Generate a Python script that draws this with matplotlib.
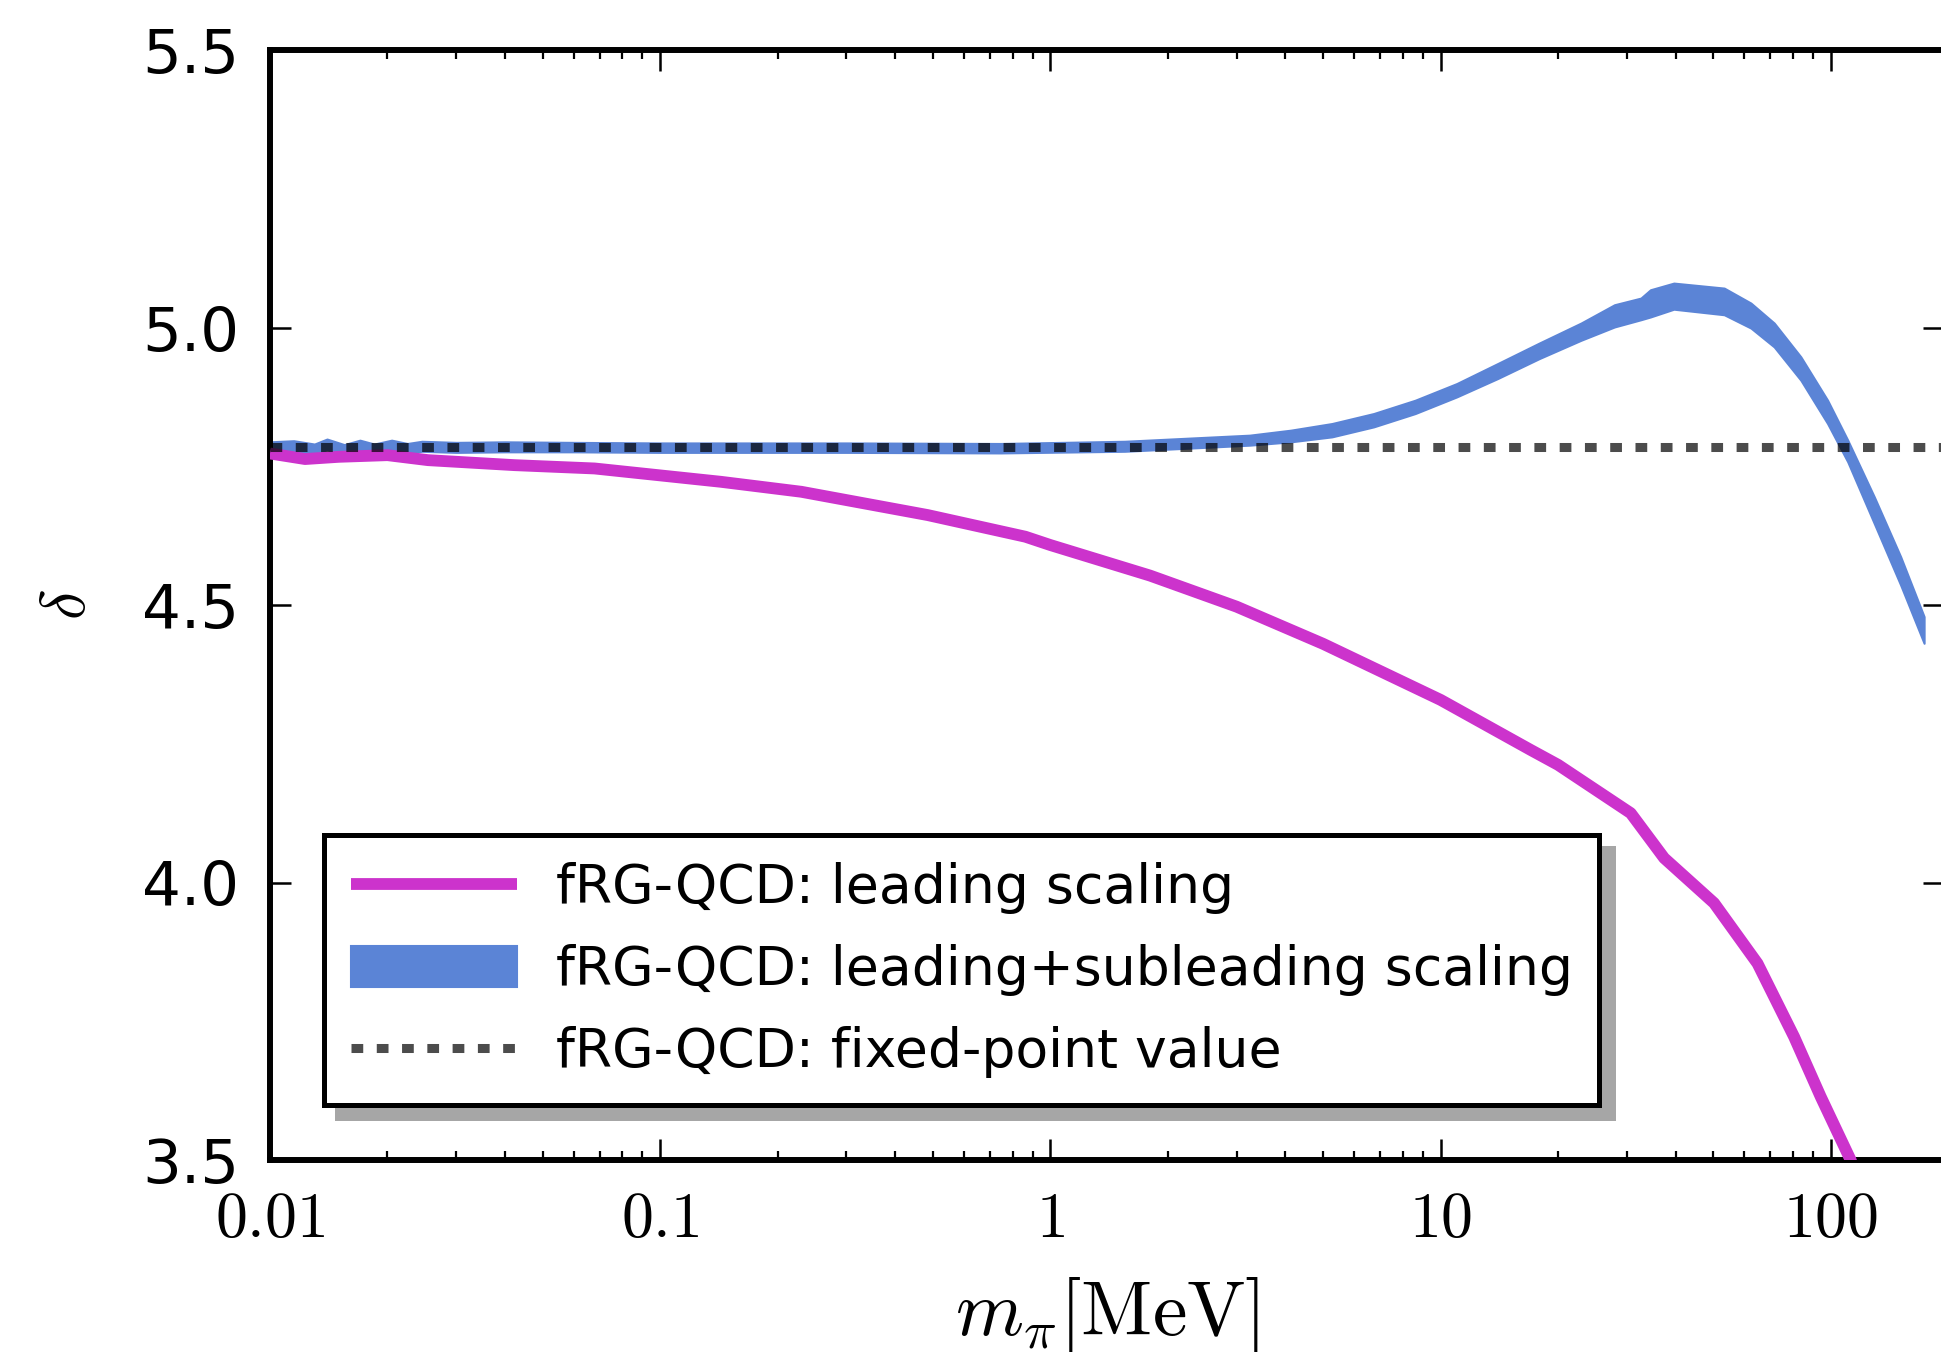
import matplotlib
matplotlib.use("Agg")
import matplotlib.pyplot as plt
from matplotlib.ticker import FixedLocator, FixedFormatter, LogLocator, NullFormatter

plt.rcParams["mathtext.fontset"] = "cm"
plt.rcParams["font.family"] = "DejaVu Sans"

# leading scaling (magenta line)
lead_x = [0.0100, 0.0123, 0.0150, 0.0200, 0.0254, 0.0423, 0.0679, 0.143, 0.230,
          0.485, 0.863, 1.0, 1.8, 3.0, 5.0, 10.0, 17.0, 20.0, 30.7, 37.4, 50.2,
          64.9, 80.5, 94.2, 112.4, 125.0]
lead_y = [4.773, 4.763, 4.767, 4.770, 4.761, 4.752, 4.746, 4.722, 4.704,
          4.662, 4.623, 4.608, 4.553, 4.497, 4.430, 4.329, 4.239, 4.212, 4.125, 4.044, 3.963,
          3.854, 3.722, 3.614, 3.500, 3.410]

# leading + subleading scaling (blue band)
band_x = [0.0100, 0.0115, 0.0130, 0.0140, 0.0155, 0.0170, 0.0185, 0.0205, 0.0225,
          0.0245, 0.030, 0.040, 0.060, 0.10, 0.30, 0.745, 1.55, 3.24, 4.13, 5.27,
          6.74, 8.61, 11.0, 14.0, 17.9, 22.9, 27.9, 32.6, 34.5, 39.6, 53.3, 62.4,
          71.6, 83.8, 98.1, 110.5, 129.2, 151.0, 173.4]
band_lo = [4.776, 4.778, 4.772, 4.780, 4.771, 4.779, 4.772, 4.779, 4.773,
           4.777, 4.775, 4.776, 4.776, 4.775, 4.775, 4.774, 4.777, 4.788, 4.794, 4.803,
           4.821, 4.845, 4.875, 4.908, 4.944, 4.977, 5.001, 5.014, 5.019, 5.033, 5.023, 4.999,
           4.965, 4.905, 4.827, 4.758, 4.647, 4.536, 4.431]
band_hi = [4.794, 4.796, 4.790, 4.799, 4.789, 4.797, 4.790, 4.797, 4.791,
           4.795, 4.793, 4.794, 4.793, 4.792, 4.792, 4.791, 4.795, 4.806, 4.815, 4.827,
           4.845, 4.869, 4.899, 4.935, 4.972, 5.008, 5.041, 5.053, 5.068, 5.080, 5.071, 5.044,
           5.008, 4.947, 4.869, 4.797, 4.695, 4.587, 4.479]

fixed_point = 4.785

xticks = [0.01, 0.1, 1, 10, 100]
xtick_labels = [r"$0.01$", r"$0.1$", r"$1$", r"$10$", r"$100$"]
yticks = [3.5, 4.0, 4.5, 5.0, 5.5]

fig = plt.figure(figsize=(19.41, 13.52), dpi=100)
ax = fig.add_axes([270 / 1941, 192 / 1352, 1674 / 1941, 1110 / 1352])

ax.fill_between(band_x, band_lo, band_hi, facecolor="#5b84d6", edgecolor="#5b84d6",
                linewidth=1.5, zorder=2, label="fRG-QCD: leading+subleading scaling")
ax.plot(lead_x, lead_y, color="#cc33cc", lw=8.5, solid_capstyle="butt", zorder=3,
        label="fRG-QCD: leading scaling")
ax.axhline(fixed_point, color="black", alpha=0.7, lw=6.5, dashes=(1.3, 1.5),
           dash_capstyle="butt", zorder=4, label="fRG-QCD: fixed-point value")

ax.set_xscale("log")
ax.set_xlim(0.01, 195)
ax.set_ylim(3.5, 5.5)

ax.xaxis.set_major_locator(FixedLocator(xticks))
ax.xaxis.set_major_formatter(FixedFormatter(xtick_labels))
ax.xaxis.set_minor_locator(LogLocator(base=10, subs=range(2, 10), numticks=20))
ax.xaxis.set_minor_formatter(NullFormatter())
ax.set_yticks(yticks)
ax.set_yticklabels(["3.5", "4.0", "4.5", "5.0", "5.5"])

ax.tick_params(which="both", direction="in", top=True, right=True)
ax.tick_params(which="major", length=15, width=1.8)
ax.tick_params(which="minor", length=6.5, width=1.6)
ax.tick_params(axis="x", labelsize=46, pad=20)
ax.tick_params(axis="y", labelsize=44, pad=22)
for s in ax.spines.values():
    s.set_linewidth(4.3)

ax.set_xlabel(r"$m_\pi[\mathrm{MeV}]$", fontsize=56)
ax.xaxis.set_label_coords(0.5, -0.1036)
ax.set_ylabel(r"$\delta$", fontsize=46)
ax.yaxis.set_label_coords(-0.103, 0.5)

h, l = ax.get_legend_handles_labels()
order = [1, 0, 2]
leg = ax.legend([h[i] for i in order], [l[i] for i in order], loc="lower left",
                bbox_to_anchor=(0.0322, 0.0496), borderaxespad=0, fontsize=38.6,
                frameon=True, fancybox=False, framealpha=1, edgecolor="black",
                handlelength=3.1, handleheight=0.8, handletextpad=0.72,
                borderpad=0.5, labelspacing=0.56,
                shadow={"ox": 9.5, "oy": -9.5, "color": "#a6a6a6", "alpha": 1.0})
leg.get_frame().set_linewidth(3.6)

fig.savefig("out.png", dpi=100)
